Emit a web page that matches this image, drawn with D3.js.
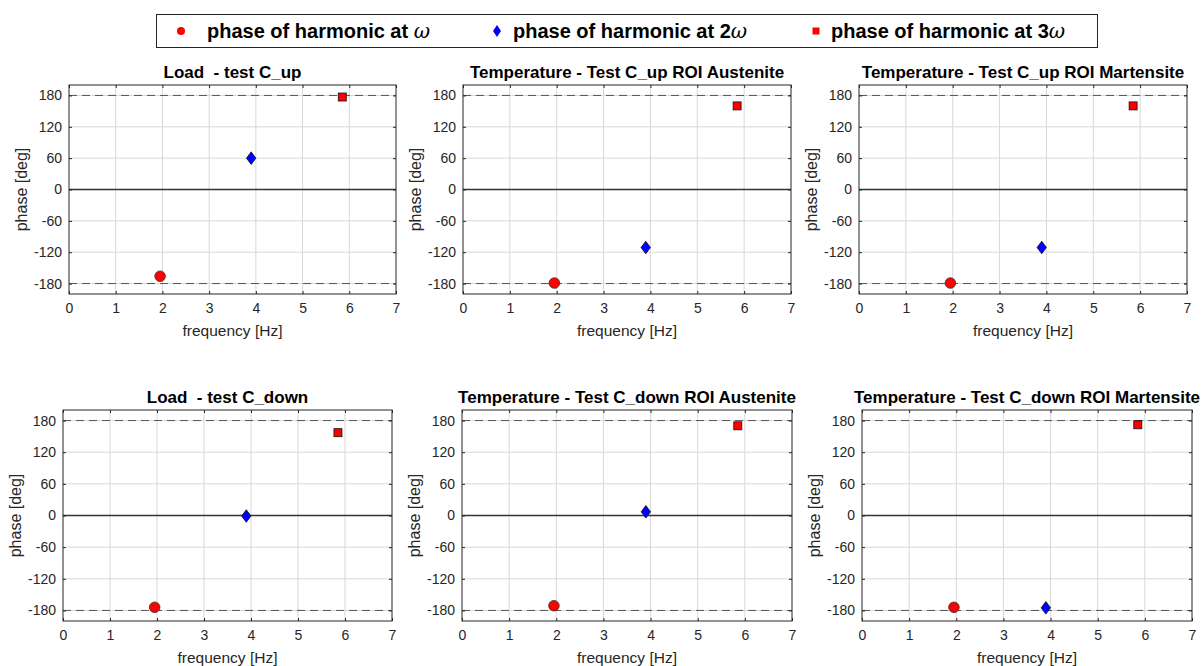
<!DOCTYPE html>
<html>
<head>
<meta charset="utf-8">
<script src="https://cdn.jsdelivr.net/npm/d3@7"></script>
<style>
    body { margin: 0; background: #fff; }
    svg { display: block; font-family: "Liberation Sans", Arial, sans-serif; }
</style>
</head>
<body>
<div id="chart"></div>
<script>
// data
const freqs = [1.95, 3.9, 5.85];
const titles = [
    "Load  - test C_up",
    "Temperature - Test C_up ROI Austenite",
    "Temperature - Test C_up ROI Martensite",
    "Load  - test C_down",
    "Temperature - Test C_down ROI Austenite",
    "Temperature - Test C_down ROI Martensite"
];
const phase1w = [-166, -179, -179, -174, -171, -174];
const phase2w = [60, -111, -111, -1, 7, -175];
const phase3w = [177, 160, 160, 157, 170, 172];
const xTicks = [0, 1, 2, 3, 4, 5, 6, 7];
const yTicks = [-180, -120, -60, 0, 60, 120, 180];

// axes boxes [left, right, top, bottom]
const boxes = [
    [69, 396, 85, 294], [463, 791, 85, 294], [859, 1187, 85, 294],
    [63, 392, 410, 621], [462, 792, 410, 621], [862, 1192, 410, 621]
];

const svg = d3.select("#chart").append("svg")
    .attr("width", 1204)
    .attr("height", 666);

const axisColor = "#262626";

function drawMarker(g, type, x, y, legend) {
    if (type === 0) {
        g.append("circle")
            .attr("cx", x).attr("cy", y)
            .attr("r", legend ? 4 : 5.3)
            .attr("fill", "#ff0000")
            .attr("stroke", legend ? "none" : "#333")
            .attr("stroke-width", 0.8);
    } else if (type === 1) {
        const w = legend ? 4 : 4.7, h = legend ? 6 : 6.3;
        g.append("path")
            .attr("d", `M${x},${y - h}L${x + w},${y}L${x},${y + h}L${x - w},${y}Z`)
            .attr("fill", "#0000ff")
            .attr("stroke", legend ? "none" : "#111")
            .attr("stroke-width", 0.8);
    } else {
        const s = legend ? 7 : 8;
        g.append("rect")
            .attr("x", x - s / 2).attr("y", y - s / 2)
            .attr("width", s).attr("height", s)
            .attr("fill", "#ff0000")
            .attr("stroke", legend ? "none" : "#111")
            .attr("stroke-width", 0.8);
    }
}

titles.forEach((title, i) => {
    const [l, r, t, b] = boxes[i];
    const x = d3.scaleLinear().domain([0, 7]).range([l, r]);
    const y = d3.scaleLinear().domain([-200, 200]).range([b, t]);
    const g = svg.append("g");

    // grid
    g.selectAll(".gx").data(xTicks.slice(1, -1)).enter().append("line")
        .attr("x1", d => x(d)).attr("x2", d => x(d))
        .attr("y1", t).attr("y2", b)
        .attr("stroke", "#d8d8d8").attr("stroke-width", 1);
    g.selectAll(".gy").data(yTicks).enter().append("line")
        .attr("x1", l).attr("x2", r)
        .attr("y1", d => y(d)).attr("y2", d => y(d))
        .attr("stroke", "#d8d8d8").attr("stroke-width", 1);

    // +/-180 dashed and zero line
    g.selectAll(".dash").data([-180, 180]).enter().append("line")
        .attr("x1", l).attr("x2", r)
        .attr("y1", d => y(d)).attr("y2", d => y(d))
        .attr("stroke", "#555").attr("stroke-width", 1)
        .attr("stroke-dasharray", "8,5");
    g.append("line")
        .attr("x1", l).attr("x2", r)
        .attr("y1", y(0)).attr("y2", y(0))
        .attr("stroke", "#333").attr("stroke-width", 1.3);

    // axes with inward ticks
    const ax = g.append("g").attr("transform", `translate(0,${b})`)
        .call(d3.axisBottom(x).tickValues(xTicks).tickFormat(d => String(d))
            .tickSizeInner(-3).tickSizeOuter(0).tickPadding(9));
    const ay = g.append("g").attr("transform", `translate(${l},0)`)
        .call(d3.axisLeft(y).tickValues(yTicks).tickFormat(d => String(d))
            .tickSizeInner(-3).tickSizeOuter(0).tickPadding(7));
    g.append("g").attr("transform", `translate(0,${t})`)
        .call(d3.axisTop(x).tickValues(xTicks).tickSizeInner(-3).tickSizeOuter(0).tickFormat(""));
    g.append("g").attr("transform", `translate(${r},0)`)
        .call(d3.axisRight(y).tickValues(yTicks).tickSizeInner(-3).tickSizeOuter(0).tickFormat(""));
    g.selectAll(".domain").remove();
    g.selectAll(".tick line").attr("stroke", axisColor);
    [ax, ay].forEach(a => a.selectAll("text")
        .attr("fill", axisColor)
        .style("font-size", "14px")
        .style("font-family", "Liberation Sans, Arial, sans-serif"));

    g.append("rect")
        .attr("x", l).attr("y", t)
        .attr("width", r - l).attr("height", b - t)
        .attr("fill", "none").attr("stroke", axisColor).attr("stroke-width", 1);

    // labels
    g.append("text")
        .attr("x", (l + r) / 2).attr("y", t - 7)
        .attr("text-anchor", "middle")
        .style("font-size", "17px").style("font-weight", "bold")
        .style("white-space", "pre")
        .attr("fill", "#000")
        .text(title);
    g.append("text")
        .attr("x", (l + r) / 2).attr("y", b + 42)
        .attr("text-anchor", "middle")
        .style("font-size", "15.5px")
        .attr("fill", axisColor)
        .text("frequency [Hz]");
    g.append("text")
        .attr("transform", `translate(${l - 42},${(t + b) / 2}) rotate(-90)`)
        .attr("text-anchor", "middle")
        .style("font-size", "16px")
        .attr("fill", axisColor)
        .text("phase [deg]");

    // points
    const vals = [phase1w[i], phase2w[i], phase3w[i]];
    vals.forEach((v, k) => drawMarker(g, k, x(freqs[k]), y(v), false));
});

// legend
const lg = svg.append("g");
lg.append("rect")
    .attr("x", 156.5).attr("y", 14.5)
    .attr("width", 941).attr("height", 33)
    .attr("fill", "#fff").attr("stroke", axisColor).attr("stroke-width", 1);
const legendItems = [
    { type: 0, mx: 181, tx: 207, pre: "" },
    { type: 1, mx: 497, tx: 513, pre: "2" },
    { type: 2, mx: 816, tx: 831, pre: "3" }
];
legendItems.forEach(it => {
    drawMarker(lg, it.type, it.mx, 31, true);
    const txt = lg.append("text")
        .attr("x", it.tx).attr("y", 38)
        .style("font-size", "20px").style("font-weight", "bold")
        .attr("fill", "#000");
    txt.append("tspan").text("phase of harmonic at " + it.pre);
    txt.append("tspan")
        .style("font-family", "DejaVu Serif, serif")
        .style("font-style", "italic")
        .style("font-weight", "normal")
        .text("ω");
});
</script>
</body>
</html>
